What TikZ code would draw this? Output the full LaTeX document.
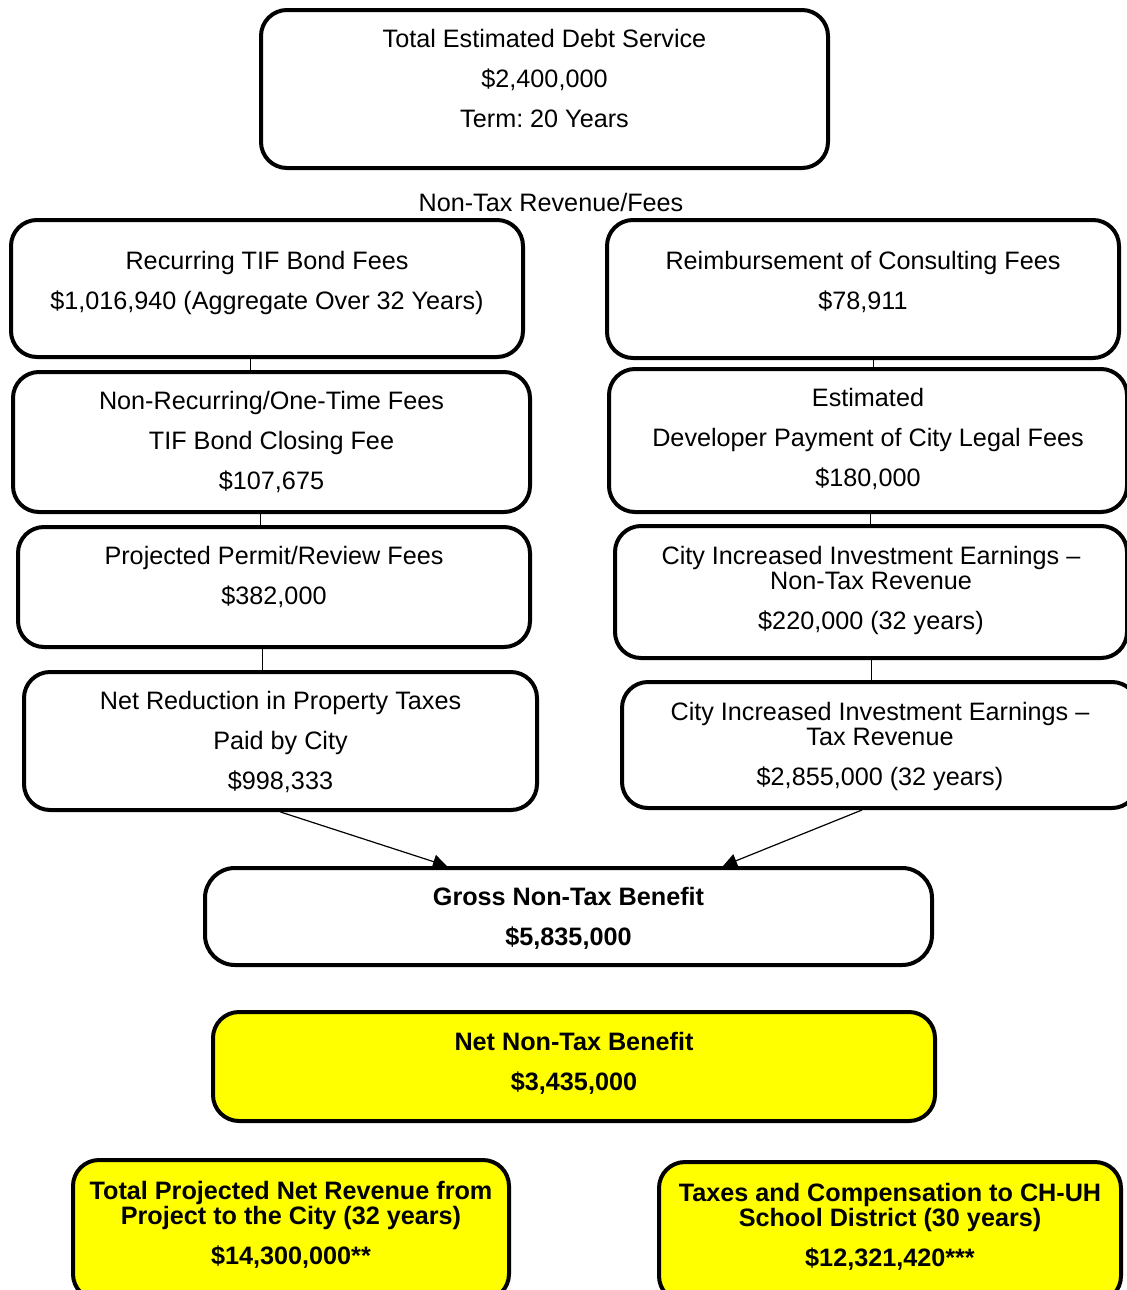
\documentclass[tikz,border=0pt]{standalone}
\usepackage{fontspec}
\setmainfont{Liberation Sans}
\usepackage{xcolor}
\usetikzlibrary{calc,arrows.meta}
\newcommand{\boxfont}{\fontsize{12.6}{20}\selectfont\frenchspacing}
\definecolor{hilite}{HTML}{FFFF00}
\tikzset{
  feebox/.style={draw=black, line width=2pt, rounded corners=13pt, anchor=north west, inner sep=0pt},
  hibox/.style={feebox, fill=hilite},
  boxtxt/.style={anchor=north, align=center, inner sep=0pt, font=\boxfont},
  boldtxt/.style={boxtxt, font=\boxfont\bfseries},
  link/.style={draw=black, line width=0.5pt},
  flow/.style={draw=black, line width=0.6pt, -{Triangle[width=7pt,length=7pt]}},
  lab/.style={font=\boxfont},
}

\begin{document}
\begin{tikzpicture}[x=0.5pt,y=-0.5pt]
  \useasboundingbox (0,0) rectangle (1127,1290);
  % debt service
  \node[feebox, minimum width=283.5pt, minimum height=79pt] (debt) at (259,8) {};
  \node[boxtxt] (debt-t) at ($(debt.north)+(0,21)$)
    {Total Estimated Debt Service\\\$2,400,000\\Term: 20 Years};
  \node[lab] (fees) at (551,202) {Non-Tax Revenue/Fees};
  % left column
  \node[feebox, minimum width=256pt, minimum height=68.5pt] (la) at (9,218) {};
  \node[boxtxt] (la-t) at ($(la.north)+(0,33)$)
    {Recurring TIF Bond Fees\\\$1,016,940 (Aggregate Over 32 Years)};
  \node[feebox, minimum width=258.5pt, minimum height=70pt] (lb) at (11,370) {};
  \node[boxtxt] (lb-t) at ($(lb.north)+(0,21)$)
    {Non-Recurring/One-Time Fees\\TIF Bond Closing Fee\\\$107,675};
  \node[feebox, minimum width=256pt, minimum height=60pt] (lc) at (16,525) {};
  \node[boxtxt] (lc-t) at ($(lc.north)+(0,21)$)
    {Projected Permit/Review Fees\\\$382,000};
  \node[feebox, minimum width=256.5pt, minimum height=69pt] (ld) at (22,670) {};
  \node[boxtxt] (ld-t) at ($(ld.north)+(0,21)$)
    {Net Reduction in Property Taxes\\Paid by City\\\$998,333};
  % right column
  \node[feebox, minimum width=256pt, minimum height=69pt] (ra) at (605,218) {};
  \node[boxtxt] (ra-t) at ($(ra.north)+(0,33)$)
    {Reimbursement of Consulting Fees\\\$78,911};
  \node[feebox, minimum width=259pt, minimum height=71.5pt] (rb) at (607,367) {};
  \node[boxtxt] (rb-t) at ($(rb.north)+(0,21)$)
    {Estimated\\Developer Payment of City Legal Fees\\\$180,000};
  \node[feebox, minimum width=256pt, minimum height=66pt] (rc) at (613,524) {};
  \node[boxtxt] (rc-t) at ($(rc.north)+(0,22)$)
    {City Increased Investment Earnings --\\[-7.5pt]Non-Tax Revenue\\\$220,000 (32 years)};
  \node[feebox, minimum width=258pt, minimum height=63pt] (rd) at (620,680) {};
  \node[boxtxt] (rd-t) at ($(rd.north)+(0,22)$)
    {City Increased Investment Earnings --\\[-7.5pt]Tax Revenue\\\$2,855,000 (32 years)};
  % totals
  \node[feebox, rounded corners=15pt, minimum width=363.5pt, minimum height=48.5pt] (gross) at (203,866) {};
  \node[boldtxt] (gross-t) at ($(gross.north)+(0,21)$)
    {Gross Non-Tax Benefit\\\$5,835,000};
  \node[hibox, minimum width=361pt, minimum height=54.5pt] (net) at (211,1010) {};
  \node[boldtxt] (net-t) at ($(net.north)+(0,22)$)
    {Net Non-Tax Benefit\\\$3,435,000};
  \node[hibox, minimum width=218pt, minimum height=70pt] (city) at (71,1158) {};
  \node[boldtxt] (city-t) at ($(city.north)+(0,23)$)
    {Total Projected Net Revenue from\\[-7.5pt]Project to the City (32 years)\\\$14,300,000**};
  \node[hibox, minimum width=231pt, minimum height=70pt] (school) at (657,1160) {};
  \node[boldtxt] (school-t) at ($(school.north)+(0,23)$)
    {Taxes and Compensation to CH-UH\\[-7.5pt]School District (30 years)\\\$12,321,420***};

  % column links
  \coordinate (la-l) at ($(la.south)+(-17,0)$);
  \coordinate (lb-l) at ($(lb.south)+(-11.5,0)$);
  \coordinate (lc-l) at ($(lc.south)+(-12,0)$);
  \coordinate (ra-l) at ($(ra.south)+(10,0)$);
  \coordinate (rb-l) at ($(rb.south)+(2,0)$);
  \draw[link] (la-l) -- (la-l |- lb.north);
  \draw[link] (lb-l) -- (lb-l |- lc.north);
  \draw[link] (lc-l) -- (lc-l |- ld.north);
  \draw[link] (ra-l) -- (ra-l |- rb.north);
  \draw[link] (rb-l) -- (rb-l |- rc.north);
  \draw[link] (rc.south) -- (rc.south |- rd.north);
  % into gross benefit
  \coordinate (rd-out) at ($(rd.south)+(-18,0)$);
  \coordinate (gross-l) at ($(gross.north)+(-121.5,0)$);
  \coordinate (gross-r) at ($(gross.north)+(154.5,0)$);
  \draw[flow] (ld.south) -- (gross-l);
  \draw[flow] (rd-out) -- (gross-r);
\end{tikzpicture}
\end{document}
